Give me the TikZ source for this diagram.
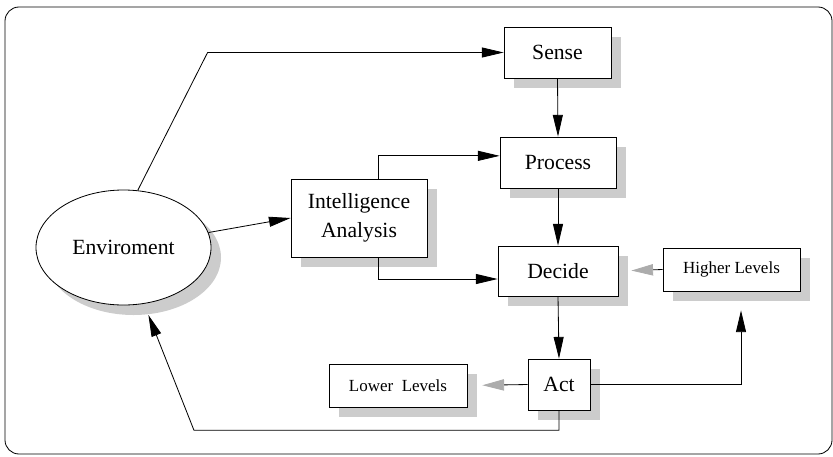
\documentclass[tikz,border=0pt]{standalone}
\usepackage{fontspec}
\setmainfont{Liberation Serif}
\usetikzlibrary{arrows.meta,shapes.geometric,shadows,calc}
\tikzset{
  shade/.style={
    drop shadow={shadow xshift=3mm, shadow yshift=-3mm, fill=gray!40, opacity=1}
  },
  blk/.style={
    draw, fill=white, shade, line width=0.7pt,
    inner sep=0pt, font=\fontsize{18.5}{25}\selectfont
  },
  blksmall/.style={
    blk, font=\fontsize{14.5}{17}\selectfont
  },
  arr/.style={
    line width=0.7pt,
    -{Triangle[length=6.5mm,width=3mm]}
  },
  arrgrey/.style={
    line width=0.7pt,
    -{Triangle[length=6.5mm,width=3.4mm,color=gray!65]}
  }
}
\begin{document}
\begin{tikzpicture}[x=0.3mm,y=-0.3mm]
    \useasboundingbox (0,0) rectangle (833,456);
    \draw[line width=0.7pt, rounded corners=4.2mm] (5,7) rectangle (832,454);
    % blocks
    \node[blk, ellipse, minimum width=52.5mm, minimum height=34.5mm] (env) at (123.5,247.5) {Enviroment};
    \node[blk, minimum width=32.1mm, minimum height=15.3mm] (sense) at (557.5,52.5) {Sense};
    \node[blk, minimum width=34.8mm, minimum height=15.3mm] (process) at (558,162.5) {Process};
    \node[blk, minimum width=36mm, minimum height=15mm] (decide) at (558,271) {Decide};
    \node[blk, minimum width=18.6mm, minimum height=15.3mm] (act) at (559,384.5) {Act};
    \node[blk, align=center, minimum width=40.8mm, minimum height=23.4mm] (intel) at (359,218) {Intelligence\\Analysis};
    \node[blksmall, minimum width=41.1mm, minimum height=12.9mm] (higher) at (731.5,269.5) {Higher Levels};
    \node[blksmall, minimum width=41.4mm, minimum height=12.9mm] (lower) at (398,385.5) {Lower\ \ Levels};
    % connectors
    \draw[arr] (env.76) -- ($(sense.west)+(-296,0)$) -- (sense.west);
    \draw[arr] (env.10) -- (intel.west);
    \draw[arr] ([xshift=5.7mm]intel.north) |- ([yshift=2mm]process.west);
    \draw[arr] ([xshift=5.7mm]intel.south) |- ([yshift=-2.4mm]decide.west);
    \draw[arr] (sense.south) -- (process.north);
    \draw[arr] (process.south) -- (decide.north);
    \draw[arr] (decide.south) -- (act.north);
    \draw[arrgrey, shorten >=3.9mm] (higher.west) -- (decide.east);
    \draw[arrgrey, shorten >=4.5mm] (act.west) -- (lower.east);
    \draw[arr, shorten >=5.7mm] (act.east) -| ([xshift=2.85mm]higher.south);
    \coordinate (back) at ($(env.-70)+(50,126.5)$);
    \draw[arr, shorten >=3.6mm] (act.south) |- (back) -- (env.-70);
\end{tikzpicture}
\end{document}
